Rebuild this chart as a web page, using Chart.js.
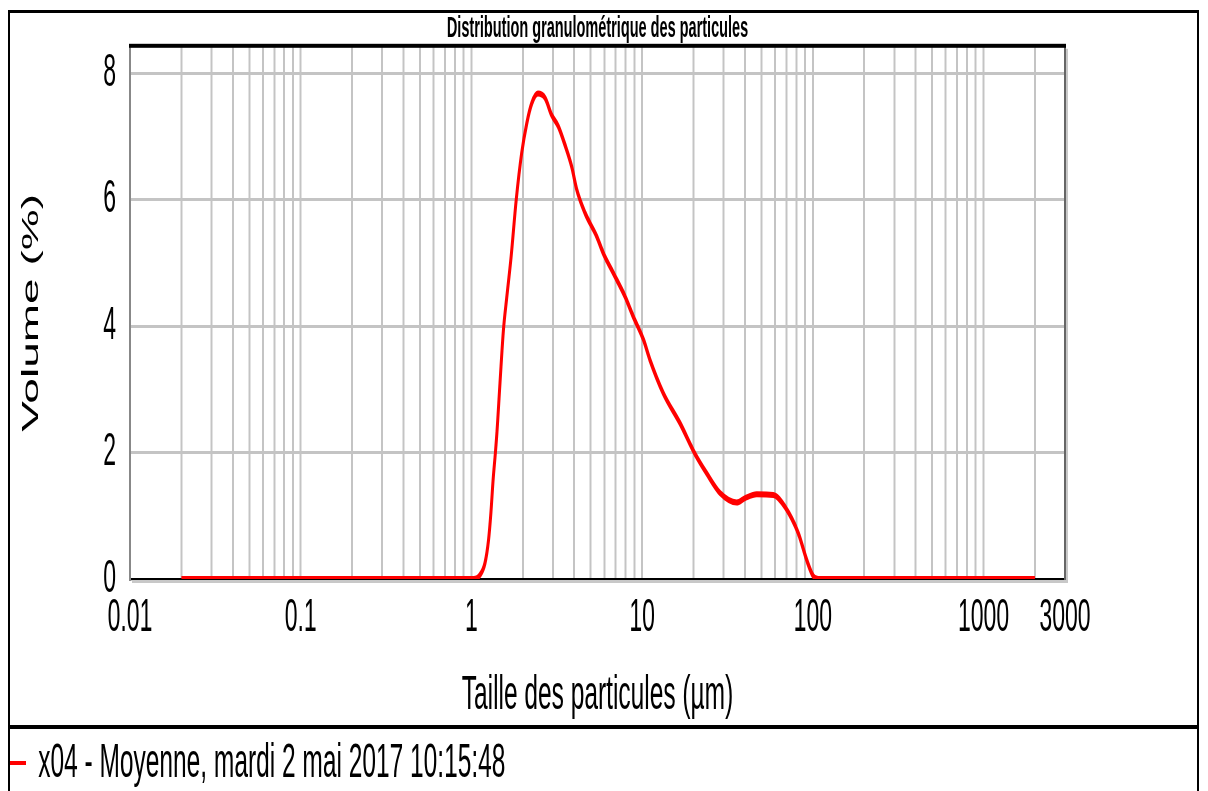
<!DOCTYPE html>
<html lang="fr">
<head>
<meta charset="UTF-8">
<title>Distribution granulométrique des particules</title>
<script src="https://cdn.jsdelivr.net/npm/chart.js"></script>
<style>
html, body { margin: 0; padding: 0; background: #fff; overflow: hidden; }
/* drawn twice as wide, then squeezed: gives the narrow lettering */
#wrap { width: 2416px; height: 800px; transform: scaleX(0.5); transform-origin: 0 0; }
</style>
</head>
<body>
<div id="wrap"><canvas id="psd" width="2416" height="800"></canvas></div>
<script>
// particle size (µm) / volume (%)
const sizes = [0.02, 0.5, 1.03, 1.12, 1.2, 1.26, 1.3, 1.34, 1.38, 1.41, 1.47, 1.54, 1.61, 1.71, 1.83, 1.97,
    2.11, 2.26, 2.45, 2.7, 2.95, 3.23, 3.53, 3.87, 4.14, 4.63, 5.42, 5.93, 6.78, 7.94, 8.88, 10.2,
    11.1, 13.3, 16.7, 20.4, 23.9, 28.6, 35.8, 40.1, 46.9, 58.7, 68.7, 82.3, 92.1, 101, 110, 2000];
const volume = [0, 0, 0, 0.06, 0.25, 0.62, 1.04, 1.57, 1.98, 2.31, 3.10, 3.94, 4.45, 5.11, 6.0, 6.74,
    7.21, 7.53, 7.68, 7.61, 7.34, 7.16, 6.87, 6.52, 6.16, 5.79, 5.42, 5.15, 4.84, 4.47, 4.15, 3.78,
    3.47, 2.94, 2.46, 1.98, 1.67, 1.36, 1.21, 1.28, 1.34, 1.33, 1.14, 0.72, 0.30, 0.04, 0, 0];
const xTickLabels = [0.01, 0.1, 1, 10, 100, 1000, 3000];
const yTicks = [0, 2, 4, 6, 8];
const seriesLabel = 'x04 - Moyenne, mardi 2 mai 2017 10:15:48';

const FONT = '"Liberation Sans", Arial, sans-serif';

// log grid: 1..9 in each decade, closed by 3000
const xGrid = [];
for (let e = -2; e <= 3; e++) {
    for (let m = 1; m <= 9; m++) {
        const v = Number((m * Math.pow(10, e)).toPrecision(3));
        if (v < 3000) xGrid.push(v);
    }
}
xGrid.push(3000);

// outer box, legend separator, heavy top edge and shadow of the plot
const framePlugin = {
    id: 'frame',
    afterDraw(chart) {
        const {ctx, chartArea: a, width, height} = chart;
        ctx.save();
        ctx.fillStyle = '#000';
        ctx.fillRect(16, 10, 4, height - 10);
        ctx.fillRect(width - 22, 10, 4, height - 10);
        ctx.fillRect(16, 10, width - 34, 3);
        ctx.fillRect(16, 725, width - 34, 4);
        ctx.fillStyle = '#c8c8c8';
        ctx.fillRect(a.right + 2, a.top + 2, 4, a.bottom - a.top + 2);
        ctx.fillRect(a.left + 4, a.bottom + 1, a.right - a.left + 2, 3);
        ctx.fillStyle = '#666';
        ctx.fillRect(a.right - 2, a.top, 4, a.bottom - a.top + 1);
        ctx.fillStyle = '#000';
        ctx.fillRect(a.left - 2, a.top - 3, a.right - a.left + 4, 4);
        ctx.restore();
    }
};

new Chart(document.getElementById('psd'), {
    type: 'line',
    data: {
        datasets: [{
            label: seriesLabel,
            data: sizes.map((s, i) => ({x: s, y: volume[i]})),
            borderColor: 'rgb(255, 0, 0)',
            backgroundColor: 'rgb(255, 0, 0)',
            borderWidth: 6,
            pointRadius: 0,
            cubicInterpolationMode: 'monotone',
            fill: false
        }]
    },
    options: {
        responsive: false,
        animation: false,
        devicePixelRatio: 1,
        layout: { padding: { left: 20, right: 286, top: 0, bottom: 2.5 } },
        plugins: {
            title: {
                display: true,
                text: 'Distribution granulométrique des particules',
                fullSize: false,
                color: '#000',
                font: { family: FONT, size: 29, weight: 'bold' },
                padding: { top: 12, bottom: 0 }
            },
            legend: {
                position: 'bottom',
                align: 'start',
                labels: {
                    color: '#000',
                    font: { family: FONT, size: 49 },
                    usePointStyle: true,
                    pointStyle: 'line',
                    pointStyleWidth: 32,
                    padding: 0,
                    generateLabels(chart) {
                        const items = Chart.defaults.plugins.legend.labels.generateLabels(chart);
                        items.forEach(it => { it.lineWidth = 4; });
                        return items;
                    }
                }
            },
            tooltip: { enabled: false }
        },
        scales: {
            x: {
                type: 'logarithmic',
                min: 0.01,
                max: 3000,
                afterBuildTicks: s => { s.ticks = xGrid.map(v => ({value: v})); },
                afterFit: s => { s.height = 159.5; s.paddingLeft = 0; s.paddingRight = 0; },
                grid: { color: '#c4c4c4', lineWidth: 4, drawTicks: false },
                border: { color: '#000', width: 2 },
                ticks: {
                    autoSkip: false,
                    maxRotation: 0,
                    minRotation: 0,
                    padding: 12,
                    color: '#000',
                    font: { family: FONT, size: 46 },
                    callback: v => xTickLabels.includes(v) ? String(v) : ''
                },
                title: {
                    display: true,
                    text: 'Taille des particules (µm)',
                    color: '#000',
                    font: { family: FONT, size: 49 },
                    padding: { top: 0, bottom: 14 }
                }
            },
            y: {
                min: 0,
                max: 8.42,
                afterBuildTicks: s => { s.ticks = yTicks.map(v => ({value: v})); },
                afterFit: s => { s.width = 240; s.paddingTop = 0; s.paddingBottom = 0; },
                grid: { color: '#c4c4c4', lineWidth: 3, drawTicks: false },
                border: { color: '#888', width: 4 },
                ticks: { padding: 28, color: '#000', font: { family: FONT, size: 46 } },
                title: {
                    display: true,
                    text: 'Volume (%)',
                    color: '#000',
                    font: { family: FONT, size: 46 },
                    padding: { top: 16, bottom: 0 }
                }
            }
        }
    },
    plugins: [framePlugin]
});
</script>
</body>
</html>
